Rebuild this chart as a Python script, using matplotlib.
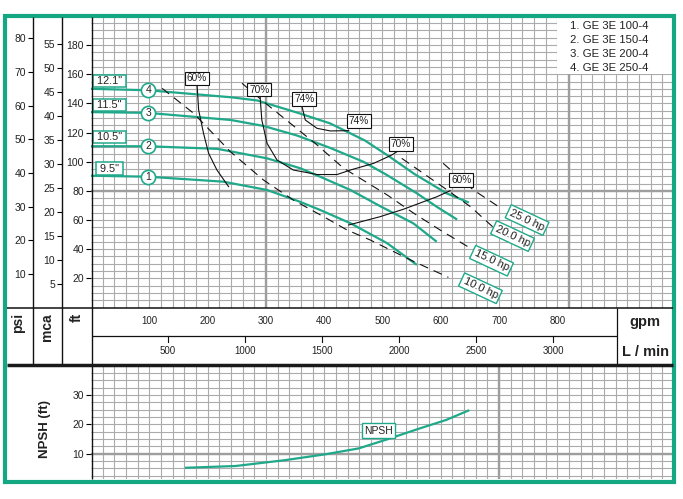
import numpy as np
import matplotlib
matplotlib.use('Agg')
import matplotlib.pyplot as plt
from matplotlib.transforms import blended_transform_factory as blend
from matplotlib.patches import Rectangle
from matplotlib.lines import Line2D

plt.rcParams['font.family'] = ['Liberation Sans', 'DejaVu Sans']

# ---------------- data ----------------
model_names = ['1. GE 3E 100-4', '2. GE 3E 150-4', '3. GE 3E 200-4', '4. GE 3E 250-4']
diam_labels = ['9.5"', '10.5"', '11.5"', '12.1"']
curve_numbers = ['1', '2', '3', '4']

q1 = [0, 98, 227, 302, 358, 393, 445, 508, 559]
h1 = [90.4, 89.7, 86.3, 80.6, 72.6, 66.9, 57.8, 44.1, 29.2]
q2 = [0, 98, 217, 302, 359, 393, 445, 496, 553, 593]
h2 = [110.6, 110.6, 108.8, 102.3, 95.5, 89.7, 80.6, 69.5, 57.7, 45.1]
q3 = [0, 98, 240, 296, 353, 410, 467, 507, 559, 593, 628]
h3 = [134, 133.5, 128.6, 124.5, 118, 109.5, 100, 91, 78.3, 69.1, 60.3]
q4 = [0, 98, 240, 285, 355, 410, 470, 510, 555, 610, 648]
h4 = [150, 149, 144.2, 142, 133.5, 126.3, 114.5, 104, 91.5, 78.3, 72]

eff60a_q = [182, 184.6, 193, 201.7, 216, 236]
eff60a_h = [152.6, 135.5, 119.5, 105.8, 94.3, 82.9]
eff70a_q = [290, 293, 302, 319, 347, 388, 422, 445, 485, 516, 527]
eff70a_h = [145, 128.6, 112.6, 101.2, 94.3, 91.2, 91.2, 94.3, 98.9, 104.6, 107.4]
eff74_q = [362, 367.6, 387.6, 410.5, 442]
eff74_h = [137.7, 128.6, 122.9, 121.1, 121.3]
eff60b_q = [442, 496, 536, 593.5, 616]
eff60b_h = [56.6, 62.3, 67.4, 76.0, 80.1]
eff_labels = ['60%', '70%', '74%', '74%', '70%', '60%']

hp10_q = [122, 176, 239, 296, 347, 399, 439, 479, 548, 613]
hp10_h = [150.3, 133.2, 106.9, 87.4, 73.7, 62.3, 53.2, 46.3, 32.6, 20.7]
hp15_q = [259, 296, 342, 388, 433, 508, 553, 599, 651]
hp15_h = [153.8, 141.2, 126.3, 111.4, 95.6, 77.2, 64.8, 53.1, 40.6]
hp20_q = [533, 611, 651, 690]
hp20_h = [102.3, 80.6, 69.1, 55.0]
hp25_q = [604, 656, 705]
hp25_h = [98.9, 80.6, 67.6]
hp_labels = ['25.0 hp', '20.0 hp', '15.0 hp', '10.0 hp']

npsh_q = [163, 248, 333, 402, 459, 505, 565, 609, 647]
npsh_h = [5.2, 5.8, 7.8, 9.8, 11.8, 14.7, 18.7, 21.5, 24.7]

ft_ticks = [20, 40, 60, 80, 100, 120, 140, 160, 180]
mca_ticks = [5, 10, 15, 20, 25, 30, 35, 40, 45, 50, 55]
psi_ticks = [10, 20, 30, 40, 50, 60, 70, 80]
gpm_ticks = [100, 200, 300, 400, 500, 600, 700, 800]
lmin_ticks = [500, 1000, 1500, 2000, 2500, 3000]
npsh_ticks = [10, 20, 30]

FT_PER_PSI = 2.307
FT_PER_M = 3.281
L_PER_GAL = 3.785

# ---------------- layout (pixels) ----------------
W, H = 683, 499
GREEN = '#14a882'
CURVE = '#1fa98a'
GRID = '#ababab'
GRIDT = '#9e9e9e'
TXT = '#222222'

fig = plt.figure(figsize=(W / 100, H / 100), dpi=100)


def fa(x0, y0, x1, y1):
    return [x0 / W, 1 - y1 / H, (x1 - x0) / W, (y1 - y0) / H]


XL, XR = 91.0, 672.7
YT, YB = 17.3, 307.5
PXQ = 0.583
PXF = 1.458
qmax = (XR - XL) / PXQ
fmax = (YB - YT) / PXF

ax = fig.add_axes(fa(XL, YT, XR, YB))
ax.set_xlim(0, qmax)
ax.set_ylim(0, fmax)
for s in ax.spines.values():
    s.set_visible(False)
ax.set_xticks([])
ax.set_yticks(ft_ticks)
ax.tick_params(axis='y', direction='out', length=3.5, width=0.8, pad=1.5,
               labelsize=7.5, labelcolor=TXT)

ax.vlines(np.arange(20, 1000, 20), 0, fmax, color=GRID, lw=0.8, zorder=0)
ax.hlines(np.arange(5, 200, 5), 0, qmax, color=GRID, lw=0.8, zorder=0)
for v in (300, 820):
    ax.axvline(v, color=GRIDT, lw=1.7, zorder=0.5)
ax.axhline(80, color=GRIDT, lw=1.7, zorder=0.5)

for name, (tks, conv, x) in {'psi': (psi_ticks, FT_PER_PSI, 33),
                             'mca': (mca_ticks, FT_PER_M, 62)}.items():
    a = fig.add_axes(fa(x, YT, x + 1, YB))
    a.set_ylim(0, fmax / conv)
    a.patch.set_visible(False)
    for s in a.spines.values():
        s.set_visible(False)
    a.set_xticks([])
    a.set_yticks(tks)
    a.tick_params(axis='y', direction='out', length=3.5, width=0.8, pad=1.5,
                  labelsize=7.5, labelcolor=TXT)

# pump curves
curves = [(q1, h1), (q2, h2), (q3, h3), (q4, h4)]
diam_pos = [95.3, 116.9, 139.1, 155.3]
for (q, h), num, dl, dy in zip(curves, curve_numbers, diam_labels, diam_pos):
    ax.plot(q, h, color=CURVE, lw=1.6, zorder=3, solid_capstyle='butt')
    hc = np.interp(98, q, h)
    ax.scatter([98], [hc], s=105, facecolor='white', edgecolor=CURVE, lw=1.2, zorder=5)
    ax.text(98, hc, num, ha='center', va='center', fontsize=7.5, color=TXT, zorder=6)
    ax.text(31.5, dy, ' ' + dl + ' ', ha='center', va='center', fontsize=7.8, color=TXT, zorder=6,
            bbox=dict(boxstyle='square,pad=0.1', fc='white', ec=CURVE, lw=1.1))

# efficiency curves
for q, h in [(eff60a_q, eff60a_h), (eff70a_q, eff70a_h), (eff74_q, eff74_h), (eff60b_q, eff60b_h)]:
    ax.plot(q, h, color='#111111', lw=0.8, zorder=4)
eff_pos = [(181.5, 157.1), (288.7, 149.5), (365.9, 143), (459.3, 127.9), (531.4, 112.1), (635.2, 87.4)]
for lab, (x, y) in zip(eff_labels, eff_pos):
    ax.text(x, y, lab, ha='center', va='center', fontsize=7.3, color=TXT, zorder=7,
            bbox=dict(boxstyle='square,pad=0.18', fc='white', ec='#111111', lw=0.8))

# power lines
for q, h in [(hp25_q, hp25_h), (hp20_q, hp20_h), (hp15_q, hp15_h), (hp10_q, hp10_h)]:
    ax.plot(q, h, color='#111111', lw=0.8, ls=(0, (8, 5.5)), zorder=4)
hp_pos = [(748, 60), (723, 49), (687, 32.1), (668, 13.2)]
for lab, (x, y) in zip(hp_labels, hp_pos):
    ax.text(x, y, lab, ha='center', va='center', fontsize=8, color=TXT, rotation=-25,
            rotation_mode='anchor', zorder=7,
            bbox=dict(boxstyle='square,pad=0.2', fc='white', ec=CURVE, lw=1.0))

# NPSH panel
NT, NB = 366.7, 479.3
PXN = 2.93
axn = fig.add_axes(fa(XL, NT, XR, NB))
axn.set_xlim(0, qmax)
axn.set_ylim((483 - NB) / PXN, (483 - NT) / PXN)
for s in axn.spines.values():
    s.set_visible(False)
axn.set_xticks([])
axn.set_yticks(npsh_ticks)
axn.tick_params(axis='y', direction='out', length=3.5, width=0.8, pad=1.5,
                labelsize=7.5, labelcolor=TXT)
axn.vlines(np.arange(20, 1000, 20), 0, 45, color=GRID, lw=0.8, zorder=0)
axn.hlines(np.arange(2.5, 45, 2.5), 0, qmax, color=GRID, lw=0.8, zorder=0)
axn.axhline(10, color=GRIDT, lw=1.7, zorder=0.5)
axn.axvline(700, color=GRIDT, lw=1.7, zorder=0.5)
axn.plot(npsh_q, npsh_h, color=CURVE, lw=1.6, zorder=3)
axn.text(493.6, 17.9, 'NPSH', ha='center', va='center', fontsize=7.5, color=TXT, zorder=6,
         bbox=dict(boxstyle='square,pad=0.2', fc='white', ec=CURVE, lw=1.0))

# overlay in pixel coordinates
ov = fig.add_axes([0, 0, 1, 1])
ov.set_xlim(0, W)
ov.set_ylim(H, 0)
ov.axis('off')
ov.patch.set_visible(False)
ov.set_zorder(10)


def line(x0, y0, x1, y1, lw=1.0, c='#111111'):
    ov.add_line(Line2D([x0, x1], [y0, y1], lw=lw, color=c, solid_capstyle='butt'))


line(33, YT, 33, 365)
line(62, YT, 62, 365)
line(91.5, YT, 91.5, NB, lw=1.0)
line(6.7, YB, XR, YB, lw=1.1)
line(91.5, 336, 617, 336, lw=0.9)
line(617, YB, 617, 365, lw=0.9)
line(6.7, 365, XR, 365, lw=2.5, c='#1a1a1a')

# legend box
ov.add_patch(Rectangle((557, YT), XR - 557, 74 - YT, fc='white', ec='none'))
for i, nm in enumerate(model_names):
    ov.text(570.5, 26 + 14.1 * i, nm, ha='left', va='center', fontsize=8.2, color=TXT)

# bottom axis
tr = blend(ax.transData, ov.transData)
for g in gpm_ticks:
    ov.text(g, 321, str(g), transform=tr, ha='center', va='center', fontsize=7, color=TXT)
for l in lmin_ticks:
    xq = l / L_PER_GAL
    ov.add_line(Line2D([xq, xq], [336, 341.5], transform=tr, lw=0.8, color='#111111'))
    ov.text(xq, 350.5, str(l), transform=tr, ha='center', va='center', fontsize=7, color=TXT)
ov.text(645, 322, 'gpm', ha='center', va='center', fontsize=10.5, fontweight='bold', color=TXT)
ov.text(645, 352, 'L / min', ha='center', va='center', fontsize=10.5, fontweight='bold', color=TXT)

ov.text(18, 313, 'psi', rotation=90, ha='center', va='top', fontsize=10, fontweight='bold', color=TXT)
ov.text(47.5, 313, 'mca', rotation=90, ha='center', va='top', fontsize=10, fontweight='bold', color=TXT)
ov.text(77, 313, 'ft', rotation=90, ha='center', va='top', fontsize=10, fontweight='bold', color=TXT)
ov.text(45, 429.5, 'NPSH (ft)', rotation=90, ha='center', va='center', fontsize=9.5,
        fontweight='bold', color=TXT)

# green frame
ov.add_patch(Rectangle((4.7, 15.7), 674.3 - 4.7, 481.7 - 15.7, fc='none', ec=GREEN, lw=3.0))

fig.savefig('out.png', dpi=100)
